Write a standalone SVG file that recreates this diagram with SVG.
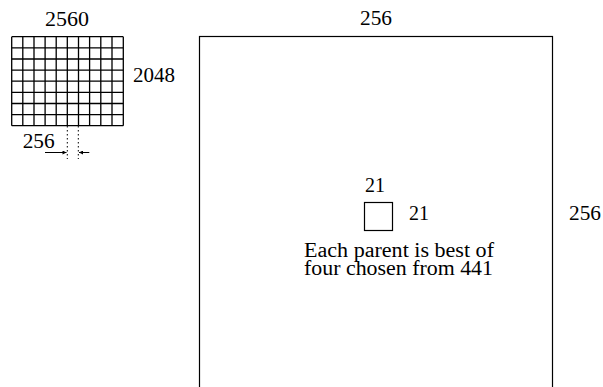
<svg xmlns="http://www.w3.org/2000/svg" width="603" height="387" viewBox="0 0 603 387">
<defs>
<style>
.t{font-family:"Liberation Serif","DejaVu Serif",serif;font-size:20px;fill:#000}
.grid{stroke:#000;stroke-width:1.3;fill:none}
.box{stroke:#000;stroke-width:1.2;fill:#fff}
.dot{stroke:#000;stroke-width:1;stroke-dasharray:1.5,2.5;fill:none}
.arr{stroke:#000;stroke-width:1;fill:none}
</style>
<marker id="ah" viewBox="0 0 10 10" refX="10" refY="5" markerWidth="6" markerHeight="4" orient="auto" markerUnits="userSpaceOnUse">
<path d="M0,0L10,5L0,10z" fill="#000"/>
</marker>
</defs>
<g id="image-grid">
<path class="grid" d="M11.7,36.7V125.7M22.8,36.7V125.7M34,36.7V125.7M45.1,36.7V125.7M56.2,36.7V125.7M67.3,36.7V125.7M78.5,36.7V125.7M89.6,36.7V125.7M100.8,36.7V125.7M112,36.7V125.7M123.3,36.7V125.7M11.7,36.7H123.3M11.7,47.8H123.3M11.7,59H123.3M11.7,70.1H123.3M11.7,81.2H123.3M11.7,92.4H123.3M11.7,103.5H123.3M11.7,114.6H123.3M11.7,125.7H123.3"/>
<text class="t" x="67" y="25.5" text-anchor="middle" textLength="44" lengthAdjust="spacingAndGlyphs">2560</text>
<text class="t" x="133" y="81.7" textLength="42" lengthAdjust="spacingAndGlyphs">2048</text>
<text class="t" x="22.7" y="148.3" textLength="32" lengthAdjust="spacingAndGlyphs">256</text>
</g>
<g id="connectors">
<path class="dot" d="M67.3,126V159M78.3,126V159"/>
<path class="arr" d="M45,152.5H66.5" marker-end="url(#ah)"/>
<path class="arr" d="M89.3,152.5H79" marker-end="url(#ah)"/>
</g>
<g id="tile">
<rect class="box" x="199.5" y="36.5" width="353" height="360"/>
<text class="t" x="376" y="25" text-anchor="middle" textLength="32" lengthAdjust="spacingAndGlyphs">256</text>
<text class="t" x="569" y="220" textLength="32" lengthAdjust="spacingAndGlyphs">256</text>
</g>
<g id="parent">
<rect class="box" x="364.5" y="202.5" width="28" height="28"/>
<text class="t" x="365" y="191.7" textLength="20" lengthAdjust="spacingAndGlyphs">21</text>
<text class="t" x="409" y="219.5" textLength="20" lengthAdjust="spacingAndGlyphs">21</text>
<text class="t" x="304" y="257.3" textLength="190" lengthAdjust="spacingAndGlyphs">Each parent is best of</text>
<text class="t" x="304" y="274.5" textLength="189" lengthAdjust="spacingAndGlyphs">four chosen from 441</text>
</g>
</svg>
